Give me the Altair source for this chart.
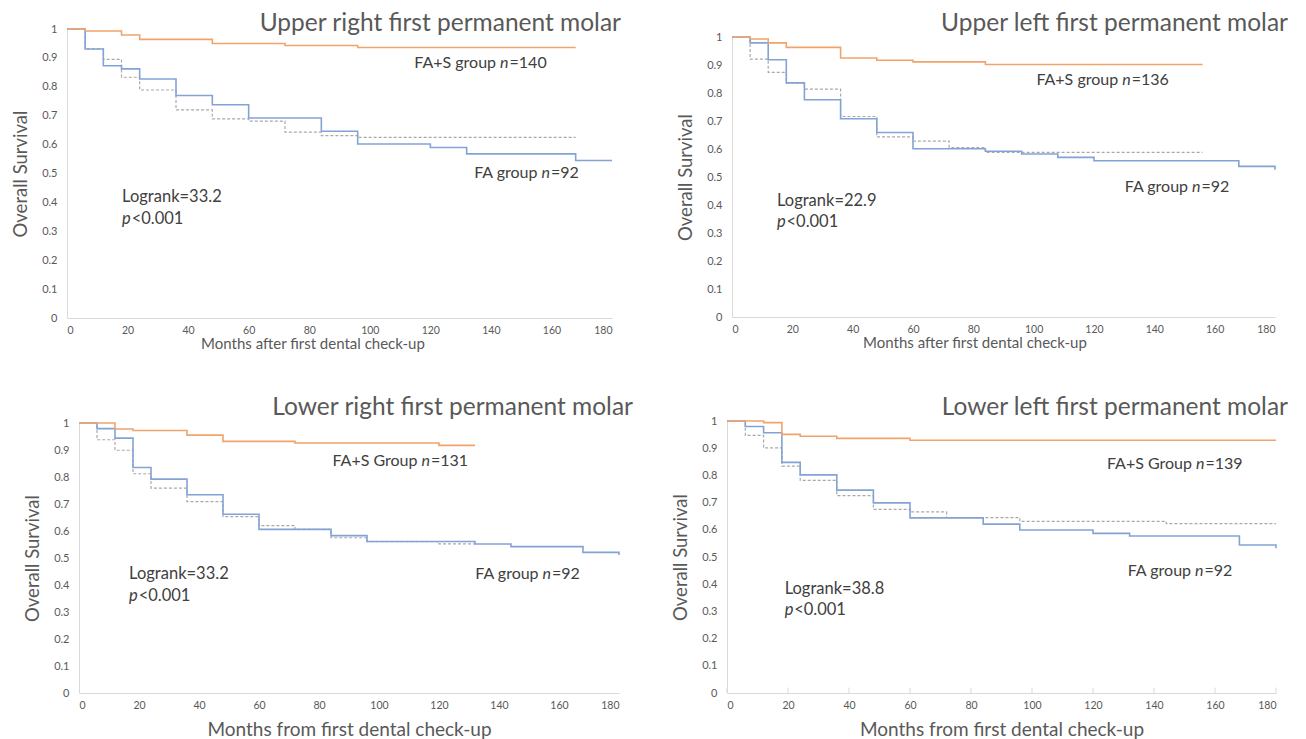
import altair as alt
import pandas as pd

# ---------------- data ----------------
panel_titles = ["Upper right first permanent molar", "Upper left first permanent molar",
                "Lower right first permanent molar", "Lower left first permanent molar"]
x_titles = ["Months after first dental check-up", "Months after first dental check-up",
            "Months from first dental check-up", "Months from first dental check-up"]
y_title = "Overall Survival"
x_ticks = [0, 20, 40, 60, 80, 100, 120, 140, 160, 180]
y_ticks = [0, 0.1, 0.2, 0.3, 0.4, 0.5, 0.6, 0.7, 0.8, 0.9, 1]

# Upper right
ur_fas_t = [0, 6, 18, 24, 48, 72, 96, 168]
ur_fas_v = [1, 0.993, 0.979, 0.964, 0.950, 0.943, 0.936, 0.936]
ur_fa_t = [0, 6, 12, 18, 24, 36, 48, 60, 84, 96, 120, 132, 168, 180]
ur_fa_v = [1, 0.931, 0.873, 0.862, 0.827, 0.770, 0.738, 0.692, 0.646, 0.602, 0.590, 0.568, 0.545, 0.545]
ur_ref_t = [0, 6, 12, 18, 24, 36, 48, 60, 72, 84, 96, 168]
ur_ref_v = [1, 0.931, 0.895, 0.833, 0.789, 0.720, 0.689, 0.681, 0.643, 0.631, 0.625, 0.625]

# Upper left
ul_fas_t = [0, 6, 12, 18, 36, 48, 60, 84, 156]
ul_fas_v = [1, 0.993, 0.979, 0.963, 0.925, 0.917, 0.911, 0.902, 0.902]
ul_fa_t = [0, 6, 12, 18, 24, 36, 48, 60, 84, 96, 108, 120, 168, 180]
ul_fa_v = [1, 0.979, 0.919, 0.836, 0.776, 0.708, 0.659, 0.601, 0.592, 0.582, 0.570, 0.558, 0.538, 0.526]
ul_ref_t = [0, 6, 12, 18, 24, 36, 48, 60, 72, 84, 156]
ul_ref_v = [1, 0.921, 0.874, 0.836, 0.814, 0.716, 0.643, 0.628, 0.605, 0.588, 0.588]

# Lower right
lr_fas_t = [0, 12, 18, 36, 48, 72, 120, 132]
lr_fas_v = [1, 0.978, 0.972, 0.955, 0.932, 0.926, 0.917, 0.917]
lr_fa_t = [0, 6, 12, 18, 24, 36, 48, 60, 84, 96, 132, 144, 168, 180]
lr_fa_v = [1, 0.979, 0.944, 0.835, 0.792, 0.734, 0.662, 0.606, 0.583, 0.561, 0.552, 0.542, 0.521, 0.511]
lr_ref_t = [0, 6, 12, 18, 24, 36, 48, 60, 72, 84, 96, 120, 132]
lr_ref_v = [1, 0.938, 0.899, 0.812, 0.759, 0.709, 0.653, 0.620, 0.606, 0.575, 0.561, 0.552, 0.552]

# Lower left
ll_fas_t = [0, 12, 18, 24, 36, 60, 180]
ll_fas_v = [1, 0.994, 0.951, 0.944, 0.936, 0.929, 0.929]
ll_fa_t = [0, 6, 12, 18, 24, 36, 48, 60, 84, 96, 120, 132, 168, 180]
ll_fa_v = [1, 0.980, 0.957, 0.848, 0.802, 0.746, 0.699, 0.644, 0.621, 0.599, 0.587, 0.577, 0.544, 0.532]
ll_ref_t = [0, 6, 12, 18, 24, 36, 48, 60, 72, 96, 144, 180]
ll_ref_v = [1, 0.947, 0.901, 0.834, 0.782, 0.726, 0.675, 0.666, 0.645, 0.631, 0.623, 0.623]

fas_group_words = ["FA+S group", "FA+S group", "FA+S Group", "FA+S Group"]
fas_n_values = ["=140", "=136", "=131", "=139"]
fa_group_words = ["FA group", "FA group", "FA group", "FA group"]
fa_n_values = ["=92", "=92", "=92", "=92"]
logrank_texts = ["Logrank=33.2", "Logrank=22.9", "Logrank=33.2", "Logrank=38.8"]
p_texts = ["<0.001", "<0.001", "<0.001", "<0.001"]

series = [
    (ur_fas_t, ur_fas_v, ur_fa_t, ur_fa_v, ur_ref_t, ur_ref_v),
    (ul_fas_t, ul_fas_v, ul_fa_t, ul_fa_v, ul_ref_t, ul_ref_v),
    (lr_fas_t, lr_fas_v, lr_fa_t, lr_fa_v, lr_ref_t, lr_ref_v),
    (ll_fas_t, ll_fas_v, ll_fa_t, ll_fa_v, ll_ref_t, ll_ref_v),
]

# ---------------- styling / layout ----------------
FONT = "Lato"
ORANGE = "#F0A46C"
BLUE = "#84A2D6"
GREY = "#A9A9A9"
TEXT = "#404040"
AXIS_TEXT = "#595959"
AXIS_LINE = "#D9D9D9"
ANN_SIZE = 16
LR_SIZE = 16.5
TITLE_SIZE = 24.5

# annotation left-edge positions (months, survival)
ann_pos = [
    {"fas": (114.5, 0.884), "fa": (134.0, 0.502), "lr": (18.2, 0.419), "p": (18.2, 0.344)},
    {"fas": (100.7, 0.845), "fa": (129.7, 0.464), "lr": (14.9, 0.415), "p": (14.9, 0.341)},
    {"fas": (84.3, 0.858), "fa": (131.6, 0.441), "lr": (16.7, 0.439), "p": (16.7, 0.359)},
    {"fas": (124.4, 0.841), "fa": (130.9, 0.447), "lr": (18.9, 0.383), "p": (18.9, 0.306)},
]

# x_lo/y_top: pixel inset of the scale range inside the panel (aligns panels of a row/column)
panel_cfg = [
    dict(width=545, height=289, x_lo=0, y_top=0, title_dx=9, title_dy=-5,
         xt_size=15, xt_pad=1, xt_shift=-27, ticks=False),
    dict(width=543, height=288, x_lo=0, y_top=8, title_dx=13, title_dy=-13.5,
         xt_size=15, xt_pad=1, xt_shift=-29, ticks=False),
    dict(width=552, height=272, x_lo=12, y_top=2, title_dx=14, title_dy=-15.5,
         xt_size=19, xt_pad=9.5, xt_shift=0, ticks=False),
    dict(width=549, height=272, x_lo=0, y_top=0, title_dx=12, title_dy=-13.5,
         xt_size=19, xt_pad=9.5, xt_shift=0, ticks=True),
]

LATO_EM = {' ': 0.25, 'A': 0.68, 'F': 0.54, 'G': 0.72, 'L': 0.47, 'S': 0.52, '+': 0.58,
           '=': 0.58, '<': 0.58, '.': 0.24, 'a': 0.50, 'g': 0.52, 'k': 0.50, 'n': 0.56,
           'o': 0.56, 'p': 0.56, 'r': 0.38, 'u': 0.56}


def text_width(s, size):
    return sum(LATO_EM.get(c, 0.58) for c in s) * size


def make_panel(i):
    cfg = panel_cfg[i]
    fas_t, fas_v, fa_t, fa_v, ref_t, ref_v = series[i]
    w, h = cfg["width"], cfg["height"]
    x_lo, y_top = cfg["x_lo"], cfg["y_top"]
    plot_w = w - x_lo
    px2m = 180.0 / plot_w

    x = alt.X("t:Q", scale=alt.Scale(domain=[0, 180], range=[x_lo, w], nice=False, zero=False),
              axis=alt.Axis(values=x_ticks, grid=False, ticks=False, tickSize=0,
                            domainColor=AXIS_LINE, labelColor=AXIS_TEXT, labelFont=FONT,
                            labelFontSize=10.5, labelPadding=7, title=x_titles[i],
                            titleFont=FONT, titleFontSize=cfg["xt_size"], titleFontWeight="normal",
                            titleColor=AXIS_TEXT, titlePadding=cfg["xt_pad"],
                            titleX=x_lo + plot_w / 2 + cfg["xt_shift"]))
    y = alt.Y("v:Q", scale=alt.Scale(domain=[0, 1], range=[h, y_top], nice=False, zero=True),
              axis=alt.Axis(values=y_ticks, format=".1~f", grid=False, ticks=False, tickSize=0,
                            offset=-x_lo,
                            domainColor=AXIS_LINE, labelColor=AXIS_TEXT, labelFont=FONT,
                            labelFontSize=11, labelPadding=10, title=y_title,
                            titleFont=FONT, titleFontSize=18.5, titleFontWeight="normal",
                            titleColor=AXIS_TEXT, titlePadding=11.5))

    layers = []
    if cfg["ticks"]:
        tk = pd.DataFrame({"t": x_ticks, "v": [0] * len(x_ticks), "v2": [0.02] * len(x_ticks)})
        layers.append(alt.Chart(tk).mark_rule(color=AXIS_LINE, strokeWidth=1).encode(
            x=x, y=y, y2="v2:Q"))

    layers.append(alt.Chart(pd.DataFrame({"t": ref_t, "v": ref_v})).mark_line(
        interpolate="step-after", color=GREY, strokeWidth=1.2, strokeDash=[3, 2]).encode(x=x, y=y))
    layers.append(alt.Chart(pd.DataFrame({"t": fa_t, "v": fa_v})).mark_line(
        interpolate="step-after", color=BLUE, strokeWidth=1.6).encode(x=x, y=y))
    layers.append(alt.Chart(pd.DataFrame({"t": fas_t, "v": fas_v})).mark_line(
        interpolate="step-after", color=ORANGE, strokeWidth=1.6).encode(x=x, y=y))

    pos = ann_pos[i]
    sp = text_width(" ", ANN_SIZE)
    rows = []
    for key, words, nval in (("fas", fas_group_words[i], fas_n_values[i]),
                             ("fa", fa_group_words[i], fa_n_values[i])):
        x0, yv = pos[key]
        a = x0 + (text_width(words, ANN_SIZE) + sp) * px2m
        rows.append({"t": a - sp * px2m, "v": yv, "label": words, "kind": "right", "size": ANN_SIZE})
        rows.append({"t": a, "v": yv, "label": "n", "kind": "italic", "size": ANN_SIZE})
        rows.append({"t": a + (text_width("n", ANN_SIZE) + 0.5) * px2m, "v": yv, "label": nval,
                     "kind": "left", "size": ANN_SIZE})
    x0, yv = pos["lr"]
    rows.append({"t": x0, "v": yv, "label": logrank_texts[i], "kind": "left", "size": LR_SIZE})
    x0, yv = pos["p"]
    rows.append({"t": x0, "v": yv, "label": "p", "kind": "italic", "size": LR_SIZE})
    rows.append({"t": x0 + (text_width("p", LR_SIZE) + 0.3) * px2m, "v": yv, "label": p_texts[i],
                 "kind": "left", "size": LR_SIZE})
    ann = pd.DataFrame(rows)

    for kind, align, style in (("right", "right", "normal"), ("left", "left", "normal"),
                               ("italic", "left", "italic")):
        sub = ann[ann["kind"] == kind]
        if len(sub):
            layers.append(alt.Chart(sub).mark_text(
                align=align, baseline="middle", font=FONT, color=TEXT, fontStyle=style).encode(
                x=x, y=y, text="label:N", size=alt.Size("size:Q", scale=None, legend=None)))

    # panel title, anchored at the plot's top-right corner
    ttl = pd.DataFrame({"t": [180], "v": [1], "label": [panel_titles[i]]})
    layers.append(alt.Chart(ttl).mark_text(
        align="right", baseline="middle", dx=cfg["title_dx"], dy=cfg["title_dy"], font=FONT,
        fontSize=TITLE_SIZE, color=AXIS_TEXT).encode(x=x, y=y, text="label:N"))

    return alt.layer(*layers).properties(width=w, height=h)


p1, p2, p3, p4 = [make_panel(i) for i in range(4)]

row1 = alt.hconcat(p1, p2, spacing=55)
row2 = alt.hconcat(p3, p4, spacing=38)

chart = alt.vconcat(row1, row2, spacing=42).properties(
    padding={"left": 3, "top": 2, "right": 0, "bottom": 0},
    background="white",
).configure_view(stroke=None)

chart.save("out.html", embed_options={"renderer": "svg", "actions": False})
